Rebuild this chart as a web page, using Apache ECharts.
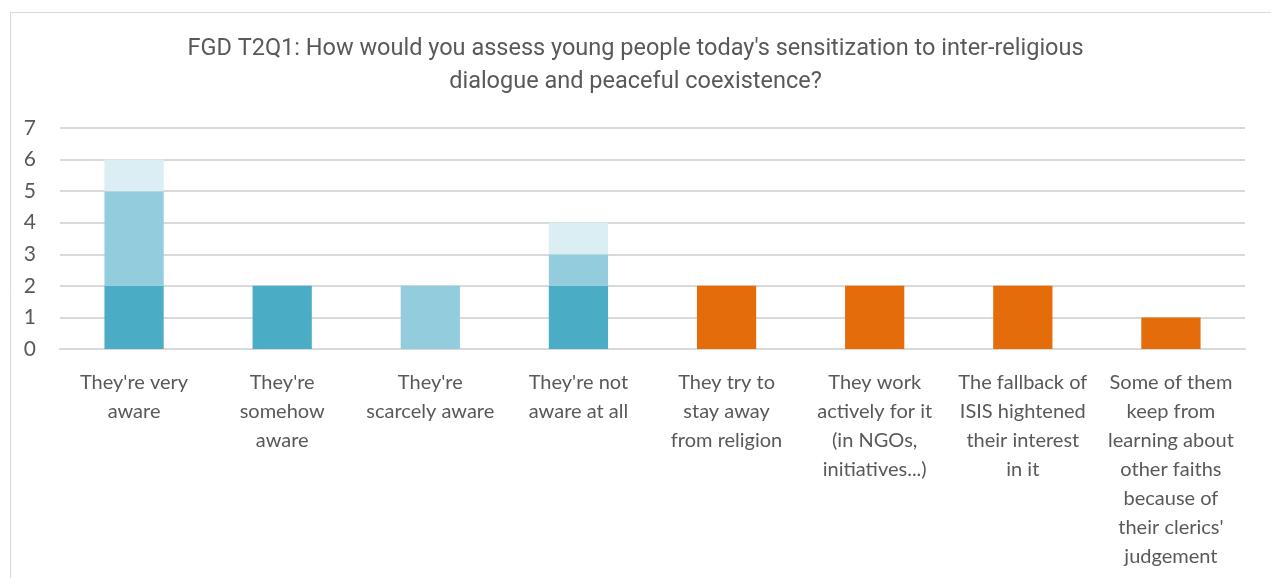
<!DOCTYPE html>
<html>
<head>
<meta charset="utf-8">
<script src="https://cdn.jsdelivr.net/npm/echarts@6/dist/echarts.min.js"></script>
<style>
  html, body { margin: 0; padding: 0; background: #fff; }
  #chart { width: 1271px; height: 578px; }
</style>
</head>
<body>
<div id="chart"></div>
<script>
// categories (line breaks follow the original wrapping)
const categories = [
  "They're very\naware",
  "They're\nsomehow\naware",
  "They're\nscarcely aware",
  "They're not\naware at all",
  "They try to\nstay away\nfrom religion",
  "They work\nactively for it\n(in NGOs,\ninitiatives...)",
  "The fallback of\nISIS hightened\ntheir interest\nin it",
  "Some of them\nkeep from\nlearning about\nother faiths\nbecause of\ntheir clerics'\njudgement"
];
const darkValues = [2, 2, 0, 2, 0, 0, 0, 0];
const midValues = [3, 0, 2, 1, 0, 0, 0, 0];
const lightValues = [1, 0, 0, 1, 0, 0, 0, 0];
const orangeValues = [0, 0, 0, 0, 2, 2, 2, 1];
const yTicks = [0, 1, 2, 3, 4, 5, 6, 7];

const chart = echarts.init(document.getElementById("chart"));

const labelFont = "Lato";

function barSeries(name, data, color) {
  return {
    name: name,
    type: "bar",
    stack: "total",
    data: data,
    barWidth: "40%",
    itemStyle: { color: color },
    emphasis: { disabled: true }
  };
}

const options = {
  animation: false,
  title: {
    text: "FGD T2Q1: How would you assess young people today's sensitization to inter-religious\ndialogue and peaceful coexistence?",
    left: "center",
    top: 28,
    textStyle: {
      fontFamily: "Roboto",
      fontSize: 23.5,
      fontWeight: "normal",
      color: "#595959",
      lineHeight: 33
    }
  },
  graphic: [
    {
      type: "rect",
      shape: { x: 10.5, y: 12.5, width: 1300, height: 620 },
      style: { fill: "none", stroke: "#D9D9D9", lineWidth: 1 },
      silent: true
    }
  ],
  grid: {
    left: 60,
    right: 26,
    top: 128,
    bottom: 229
  },
  xAxis: {
    type: "category",
    data: categories,
    axisLine: { show: true, lineStyle: { color: "#D9D9D9", width: 2 } },
    axisTick: { show: false },
    axisLabel: {
      interval: 0,
      margin: 19,
      color: "#595959",
      fontFamily: labelFont,
      fontSize: 20,
      lineHeight: 29,
      verticalAlign: "top"
    }
  },
  yAxis: {
    type: "value",
    min: 0,
    max: yTicks[yTicks.length - 1],
    interval: 1,
    axisLine: { show: false },
    axisTick: { show: false },
    splitLine: { lineStyle: { color: "#D9D9D9", width: 2 } },
    axisLabel: {
      margin: 24,
      color: "#595959",
      fontFamily: labelFont,
      fontSize: 21
    }
  },
  series: [
    barSeries("dark", darkValues, "#4BACC6"),
    barSeries("mid", midValues, "#93CDDD"),
    barSeries("light", lightValues, "#DAEEF3"),
    barSeries("orange", orangeValues, "#E46C0A")
  ]
};

chart.setOption(options);
</script>
</body>
</html>
